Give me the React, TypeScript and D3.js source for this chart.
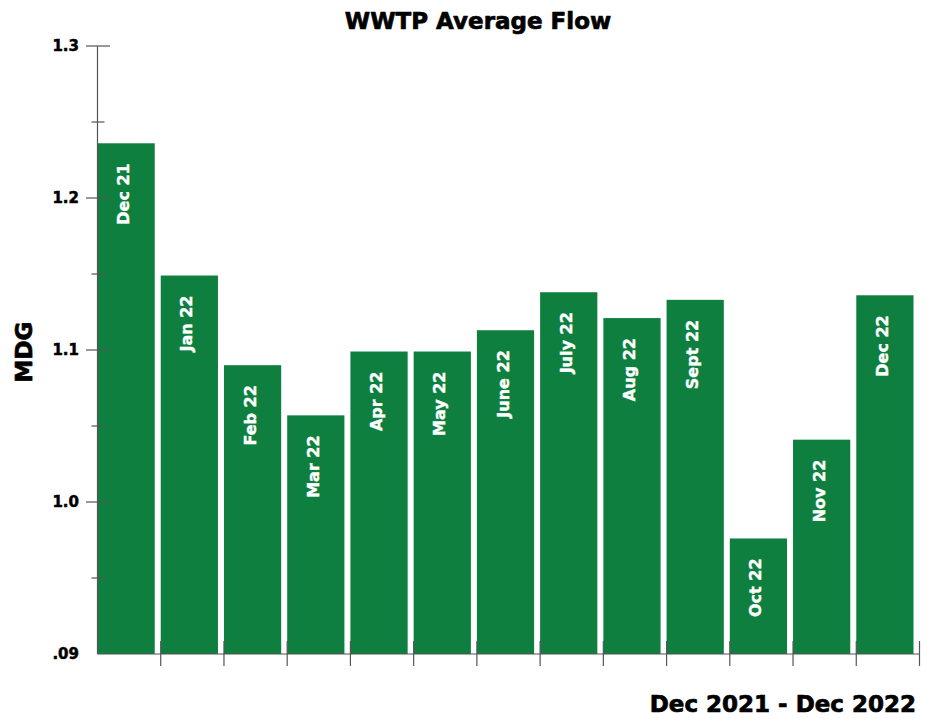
import React from "react";
import * as d3 from "d3";

// Monthly average flow at the WWTP (million gallons per day)
const months = [
  "Dec 21", "Jan 22", "Feb 22", "Mar 22", "Apr 22", "May 22", "June 22",
  "July 22", "Aug 22", "Sept 22", "Oct 22", "Nov 22", "Dec 22",
];
const flows = [
  1.236, 1.149, 1.09, 1.057, 1.099, 1.099, 1.113,
  1.138, 1.121, 1.133, 0.976, 1.041, 1.136,
];
const majorTicks = [1.3, 1.2, 1.1, 1.0, 0.9];
const majorTickLabels = ["1.3", "1.2", "1.1", "1.0", ".09"];
const minorTicks = [1.25, 1.15, 1.05, 0.95];

const W = 937;
const H = 719;
const FONT = "'DejaVu Sans', 'Liberation Sans', Arial, sans-serif";
const GREEN = "#0e7f3f";
const AXIS = "#555";

// heavy black text: bold face thickened with a thin outline
const heavy = {
  fontFamily: FONT,
  fontWeight: "bold" as const,
  fill: "#000",
  stroke: "#000",
  strokeWidth: 0.7,
  strokeLinejoin: "round" as const,
};

export default function App() {
  const left = 97.5;
  const right = 919.5;
  const top = 46;
  const bottom = 654;

  const x = d3.scaleBand<string>().domain(months).range([left, right]).padding(0);
  const y = d3.scaleLinear().domain([0.9, 1.3]).range([bottom, top]);
  const bw = x.bandwidth() - 6;

  return (
    <svg
      width={W}
      height={H}
      viewBox={`0 0 ${W} ${H}`}
      style={{ position: "absolute", left: 0, top: 0, background: "#fff" }}
    >
      <rect x={0} y={0} width={W} height={H} fill="#fff" />

      {/* title */}
      <text x={478} y={29} textAnchor="middle" fontSize={23} {...heavy}>
        WWTP Average Flow
      </text>

      {/* bars with month labels inside */}
      {months.map((m, i) => {
        const bx = x(m) as number;
        const by = y(flows[i]);
        return (
          <g key={m}>
            <rect x={bx} y={by} width={bw} height={bottom - by} fill={GREEN} />
            <text
              transform={`translate(${bx + bw / 2 + 3},${by + 20}) rotate(-90)`}
              textAnchor="end"
              fontFamily={FONT}
              fontWeight="bold"
              fontSize={16}
              fill="#fff"
              stroke="#fff"
              strokeWidth={0.4}
            >
              {m}
            </text>
          </g>
        );
      })}

      {/* y axis */}
      <line x1={left} x2={left} y1={top} y2={bottom} stroke={AXIS} strokeWidth={1.2} />
      {majorTicks.map((t, i) => (
        <g key={`maj${t}`}>
          {i < majorTicks.length - 1 && (
            <line x1={86} x2={110} y1={y(t)} y2={y(t)} stroke={AXIS} strokeWidth={1.2} />
          )}
          <text x={79} y={y(t)} dy="0.36em" textAnchor="end" fontSize={15} {...heavy} strokeWidth={0.5}>
            {majorTickLabels[i]}
          </text>
        </g>
      ))}
      {minorTicks.map((t) => (
        <line key={`min${t}`} x1={91.5} x2={104.5} y1={y(t)} y2={y(t)} stroke={AXIS} strokeWidth={1.2} />
      ))}

      {/* x axis */}
      <line x1={left} x2={right} y1={bottom} y2={bottom} stroke={AXIS} strokeWidth={1.2} />
      {months.map((m, i) => {
        const tx = (x(m) as number) + x.bandwidth();
        return (
          <line key={`xt${i}`} x1={tx} x2={tx} y1={641} y2={666} stroke={AXIS} strokeWidth={1.2} />
        );
      })}

      {/* axis titles */}
      <text transform={`translate(32,352) rotate(-90)`} textAnchor="middle" fontSize={23} {...heavy}>
        MDG
      </text>
      <text x={916} y={712} textAnchor="end" fontSize={23} {...heavy}>
        Dec 2021 - Dec 2022
      </text>
    </svg>
  );
}
